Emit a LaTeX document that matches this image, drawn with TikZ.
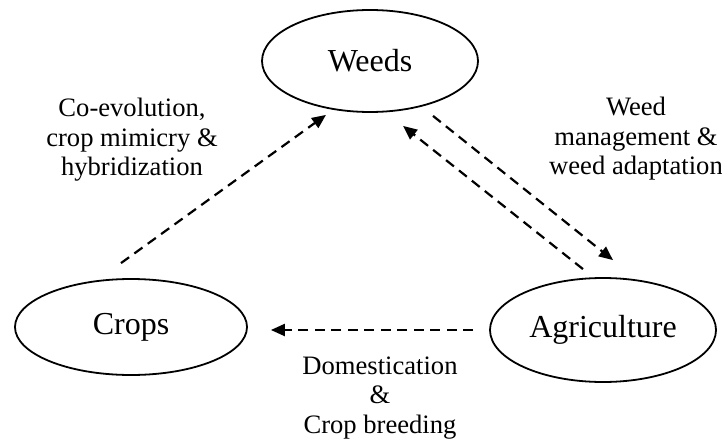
\documentclass[tikz,border=0pt]{standalone}
\usepackage{fontspec}
\setmainfont{Liberation Serif}
\usetikzlibrary{shapes.geometric,arrows.meta}
\tikzset{
  oval/.style={draw, ellipse, line width=1.8pt, inner sep=0pt, font=\fontsize{32}{36}\selectfont},
  lbl/.style={align=center, font=\fontsize{26.6}{29.5}\selectfont, inner sep=0pt},
  conn/.style={dashed, dash pattern=on 10pt off 6.5pt, line width=2.2pt, -{Triangle[length=14pt,width=12pt]}}
}
\begin{document}
\begin{tikzpicture}[x=1pt,y=1pt]
\useasboundingbox (0,0) rectangle (722,440);
\node[oval, minimum width=216pt, minimum height=102pt] (weeds) at (370,379) {Weeds};
\node[oval, minimum width=232pt, minimum height=96pt] (crops) at (131,113) {Crops};
\node[oval, minimum width=226pt, minimum height=104pt] (agri) at (603,110) {Agriculture};
\node[lbl] (l1) at (132,300) {Co-evolution,\\crop mimicry \&\\hybridization};
\node[lbl] (l2) at (636,301) {Weed\\management \&\\weed adaptation};
\node[lbl] (l3) at (380,42) {Domestication\\\&\\Crop breeding};
\draw[conn] ([shift={(-10pt,15pt)}]crops.north) -- ([shift={(-44pt,-2pt)}]weeds.south);
\draw[conn] ([shift={(-20pt,8pt)}]agri.north) -- ([shift={(33pt,-13pt)}]weeds.south);
\draw[conn] ([shift={(63pt,-3pt)}]weeds.south) -- ([shift={(10pt,17pt)}]agri.north);
\draw[conn] ([shift={(-16pt,0pt)}]agri.west) -- ([shift={(23pt,-3pt)}]crops.east);
\end{tikzpicture}
\end{document}
